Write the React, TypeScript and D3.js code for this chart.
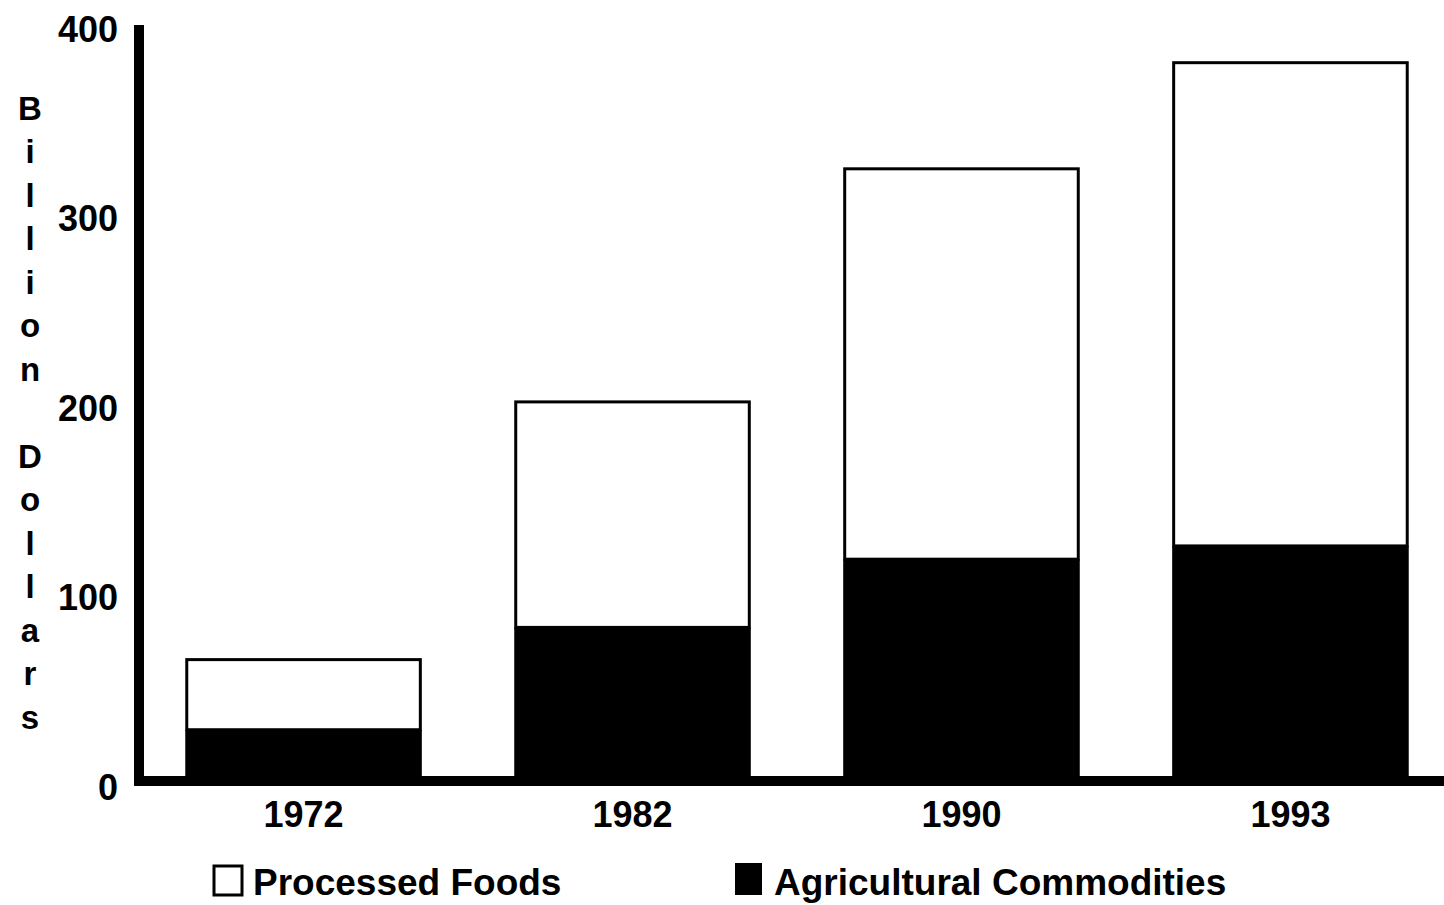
import * as d3 from 'd3';

const years = ['1972', '1982', '1990', '1993'];
const agricultural = [26, 80, 116, 123];
const processed = [37, 119, 206, 255];
const yTicks = [0, 100, 200, 300, 400];
const yLabel = 'Billion Dollars';
const legendItems = ['Processed Foods', 'Agricultural Commodities'];

const W = 1444;
const H = 905;
const font = '"Liberation Sans", Arial, sans-serif';

const App = () => {
  const x = d3.scaleBand().domain(years).range([144, 1450]).paddingInner(0.29).paddingOuter(0.13);
  const y = d3.scaleLinear().domain([0, 400]).range([779, 21]);

  const rows = years.map((year, i) => ({ year, ag: agricultural[i], proc: processed[i] }));
  const stack = d3.stack().keys(['ag', 'proc'])(rows as any);

  return (
    <svg width={W} height={H} style={{ position: 'absolute', left: 0, top: 0, background: '#fff' }} fontFamily={font} fontWeight="bold">
      {/* stacked bars */}
      {stack[1].map((d, i) => (
        <rect key={'p' + i} x={x(years[i])} y={y(d[1])} width={x.bandwidth()} height={y(d[0]) - y(d[1])}
          fill="#fff" stroke="#000" strokeWidth={3} />
      ))}
      {stack[0].map((d, i) => (
        <rect key={'a' + i} x={(x(years[i]) as number) - 1.5} y={y(d[1])} width={x.bandwidth() + 3} height={y(d[0]) - y(d[1])}
          fill="#000" />
      ))}

      {/* axes */}
      <line x1={139} x2={139} y1={25} y2={786} stroke="#000" strokeWidth={10} />
      <line x1={134} x2={W} y1={y(0) + 2} y2={y(0) + 2} stroke="#000" strokeWidth={10} />

      {yTicks.map((t) => (
        <text key={t} x={118} y={y(t) + 8} textAnchor="end" dominantBaseline="central" fontSize={36}>{t}</text>
      ))}
      {years.map((yr) => (
        <text key={yr} x={(x(yr) as number) + x.bandwidth() / 2} y={827} textAnchor="middle" fontSize={36}>{yr}</text>
      ))}

      {/* vertical stacked axis title */}
      {yLabel.split('').map((c, i) => (
        <text key={i} x={30} y={108 + i * 43.5} textAnchor="middle" dominantBaseline="central" fontSize={33}>{c}</text>
      ))}

      {/* legend */}
      <rect x={214} y={866} width={28} height={29} fill="#fff" stroke="#000" strokeWidth={3} />
      <text x={253} y={895} fontSize={37}>{legendItems[0]}</text>
      <rect x={735} y={863} width={27} height={32} fill="#000" />
      <text x={774} y={895} fontSize={37}>{legendItems[1]}</text>
    </svg>
  );
};

export default App;
